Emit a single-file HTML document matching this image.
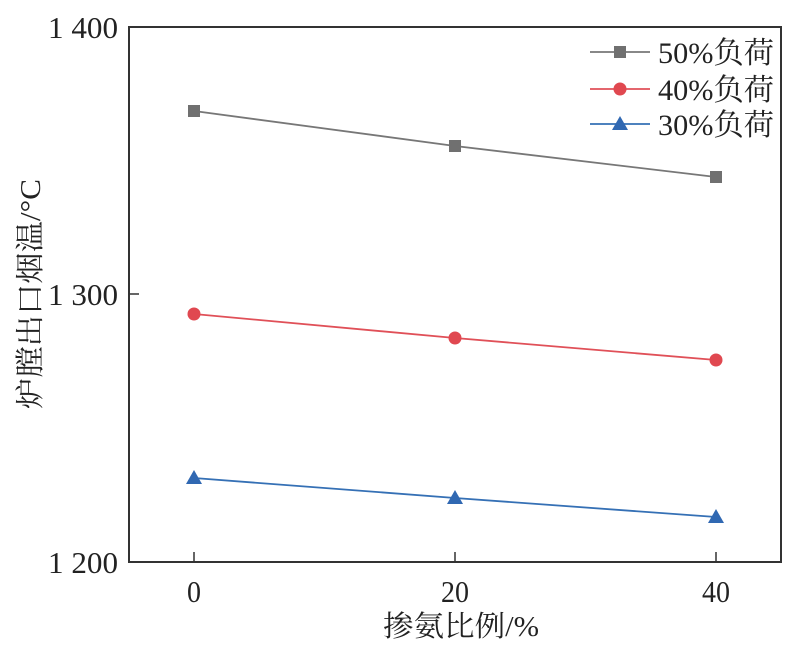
<!DOCTYPE html>
<html><head><meta charset="utf-8"><style>body{margin:0;background:#fff}svg{display:block}</style></head><body>
<svg width="799" height="649" xmlns="http://www.w3.org/2000/svg" font-family="'Liberation Serif','Noto Serif CJK SC',serif" fill="#222">
<rect x="129" y="27" width="652" height="535" fill="none" stroke="#333" stroke-width="2"/>
<g stroke="#333" stroke-width="1.5">
<line x1="194" y1="562" x2="194" y2="552"/><line x1="455" y1="562" x2="455" y2="552"/><line x1="716" y1="562" x2="716" y2="552"/>
<line x1="129" y1="294" x2="139" y2="294"/>
</g>
<g font-size="31" text-anchor="end">
<text x="118" y="38" textLength="70" lengthAdjust="spacingAndGlyphs">1 400</text>
<text x="118" y="305" textLength="70" lengthAdjust="spacingAndGlyphs">1 300</text>
<text x="118" y="573" textLength="70" lengthAdjust="spacingAndGlyphs">1 200</text>
</g>
<g font-size="31" text-anchor="middle">
<text x="194" y="602" textLength="14" lengthAdjust="spacingAndGlyphs">0</text><text x="455" y="602" textLength="28" lengthAdjust="spacingAndGlyphs">20</text><text x="716" y="602" textLength="28" lengthAdjust="spacingAndGlyphs">40</text>
<text x="461" y="636" font-size="29" textLength="156" lengthAdjust="spacingAndGlyphs">掺氨比例/%</text>
</g>
<text transform="translate(40,294) rotate(-90)" font-size="29" text-anchor="middle" textLength="230" lengthAdjust="spacingAndGlyphs">炉膛出口烟温/°C</text>
<g stroke-width="1.8" fill="none">
<polyline points="194,111 455,146 716,177" stroke="#777"/>
<polyline points="194,314 455,338 716,360" stroke="#e05058"/>
<polyline points="194,478 455,498 716,517" stroke="#3570b5"/>
<line x1="590" y1="52" x2="650" y2="52" stroke="#777"/>
<line x1="590" y1="89" x2="650" y2="89" stroke="#e05058"/>
<line x1="590" y1="124" x2="650" y2="124" stroke="#3570b5"/>
</g>
<g fill="#707070"><rect x="188" y="105" width="12" height="12"/><rect x="449" y="140" width="12" height="12"/><rect x="710" y="171" width="12" height="12"/><rect x="614" y="46" width="12" height="12"/></g>
<g fill="#e04850"><circle cx="194" cy="314" r="6.5"/><circle cx="455" cy="338" r="6.5"/><circle cx="716" cy="360" r="6.5"/><circle cx="620" cy="89" r="6.5"/></g>
<g fill="#3068b2"><polygon points="194,470 186,484 202,484"/><polygon points="455,490 447,504 463,504"/><polygon points="716,509 708,523 724,523"/><polygon points="620,116 612,130 628,130"/></g>
<g font-size="30">
<text x="658" y="63" textLength="116" lengthAdjust="spacingAndGlyphs">50%负荷</text>
<text x="658" y="100" textLength="116" lengthAdjust="spacingAndGlyphs">40%负荷</text>
<text x="658" y="135" textLength="116" lengthAdjust="spacingAndGlyphs">30%负荷</text>
</g>
</svg>
</body></html>
